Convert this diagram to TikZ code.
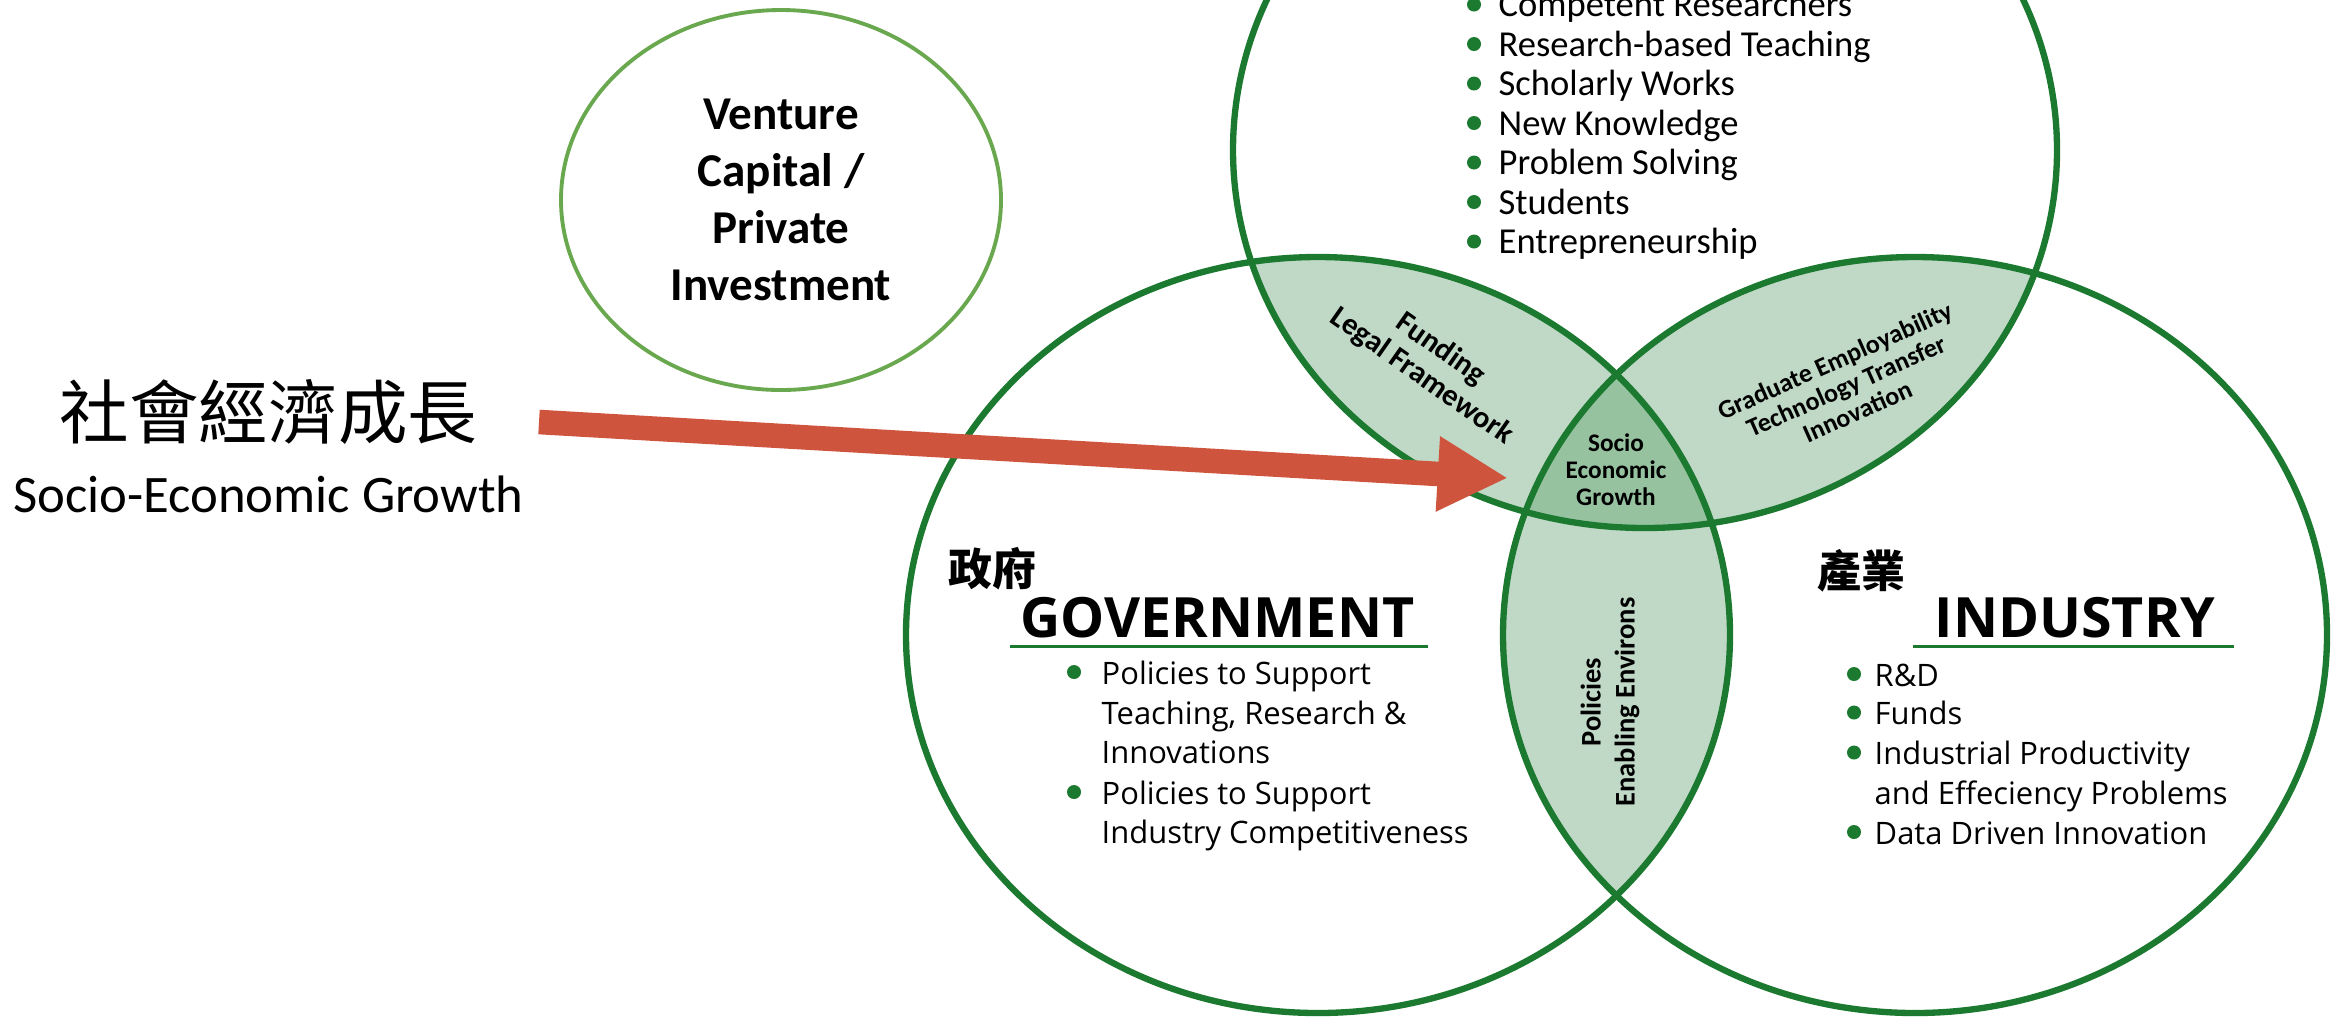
\documentclass[tikz,border=0pt]{standalone}
\usepackage{fontspec}
\setmainfont{Carlito}
\newfontfamily\cjk{Noto Sans CJK TC}
\newfontfamily\osans{Open Sans}
\usetikzlibrary{positioning,shapes.geometric,arrows.meta}

\definecolor{ringgreen}{RGB}{28,122,48}
\definecolor{lensgreen}{RGB}{192,216,198}
\definecolor{coregreen}{RGB}{150,194,160}
\definecolor{vcgreen}{RGB}{106,168,79}
\definecolor{arrowred}{RGB}{207,84,61}

\begin{document}
\begin{tikzpicture}[every node/.style={inner sep=0pt},
	ring/.style={draw=ringgreen,line width=1.8pt},
	lenslabel/.style 2 args={align=center,font=\bfseries\fontsize{#1}{#2}\selectfont},
	headline/.style={anchor=base,font=\osans\bfseries\fontsize{15.8}{18}\selectfont},
	zhhead/.style={font=\cjk\bfseries\fontsize{12.5}{14}\selectfont}]

\useasboundingbox (0,0) rectangle (23.41,-10.18);
\clip (0,0) rectangle (23.41,-10.18);

\newcommand{\erx}{4.12}
\newcommand{\ery}{3.78}
\newcommand{\bpt}[5]{
	\fill[ringgreen] (#2,{#4+0.12}) circle[radius=0.07];
	\node[anchor=base west] (#1) at (#3,#4) {#5};
}

\coordinate (gov) at (13.18,-6.35);
\coordinate (ind) at (19.15,-6.35);
\coordinate (uni) at (16.45,-1.50);

% overlaps
\begin{scope}
	\clip (gov) ellipse [x radius=\erx,y radius=\ery];
	\fill[lensgreen] (uni) ellipse [x radius=\erx,y radius=\ery];
	\fill[lensgreen] (ind) ellipse [x radius=\erx,y radius=\ery];
\end{scope}
\begin{scope}
	\clip (uni) ellipse [x radius=\erx,y radius=\ery];
	\fill[lensgreen] (ind) ellipse [x radius=\erx,y radius=\ery];
\end{scope}
\begin{scope}
	\clip (gov) ellipse [x radius=\erx,y radius=\ery];
	\clip (uni) ellipse [x radius=\erx,y radius=\ery];
	\fill[coregreen] (ind) ellipse [x radius=\erx,y radius=\ery];
\end{scope}
\foreach \c in {gov,ind,uni}{
	\draw[ring] (\c) ellipse [x radius=\erx,y radius=\ery];
}

\node[ellipse,draw=vcgreen,line width=1.1pt,minimum width=4.4cm,minimum height=3.8cm,
	align=center,font=\bfseries\fontsize{13.4}{16.2}\selectfont] (vc) at (7.81,-2.0)
	{Venture\\Capital /\\Private\\Investment};

\node[font=\cjk\fontsize{19.8}{22}\selectfont] (cnlabel) at (2.685,-4.12) {社會經濟成長};
\node[font=\fontsize{15}{18}\selectfont] (enlabel) [below=0.3cm of cnlabel] {Socio-Economic Growth};

% university
\begin{scope}[font=\fontsize{10.4}{11.2}\selectfont]
\foreach[count=\i from 0] \t in {Competent Researchers,Research-based Teaching,Scholarly Works,
	New Knowledge,Problem Solving,Students,Entrepreneurship}{
	\bpt{u\i}{14.74}{14.98}{-0.165-0.395*\i}{\t}
}
\end{scope}

% government
\node[zhhead] (govzh) at (9.92,-5.69) {政府};
\node[headline] (govhead) at (12.175,-6.37) {GOVERNMENT};
\draw[ringgreen,line width=0.85pt] (10.10,-6.46) -- (14.28,-6.46);
\begin{scope}[font=\osans\fontsize{8.8}{10}\selectfont]
\bpt{g1}{10.74}{11.01}{-6.84}{Policies to Support}
\node[anchor=base west] (g2) at (11.01,-7.24) {Teaching, Research \&};
\node[anchor=base west] (g3) at (11.01,-7.63) {Innovations};
\bpt{g4}{10.74}{11.01}{-8.04}{Policies to Support}
\node[anchor=base west] (g5) at (11.01,-8.43) {Industry Competitiveness};
\end{scope}

% industry
\node[zhhead] (indzh) at (18.61,-5.71) {產業};
\node[headline] (indhead) at (20.75,-6.37) {INDUSTRY};
\draw[ringgreen,line width=0.85pt] (19.13,-6.46) -- (22.34,-6.46);
\begin{scope}[font=\osans\fontsize{8.8}{10}\selectfont]
\bpt{i1}{18.54}{18.74}{-6.86}{R\&D}
\bpt{i2}{18.54}{18.74}{-7.245}{Funds}
\bpt{i3}{18.54}{18.74}{-7.645}{Industrial Productivity}
\node[anchor=base west] (i4) at (18.74,-8.04) {and Effeciency Problems};
\bpt{i5}{18.54}{18.74}{-8.44}{Data Driven Innovation}
\end{scope}

% overlap labels
\node[lenslabel={7.2}{7.7}] (core) at (16.16,-4.70) {Socio\\Economic\\Growth};
\node[lenslabel={8.7}{9.4},rotate=-35] (fundlens) at (14.31,-3.63) {Funding\\Legal Framework};
\node[lenslabel={7.4}{7.9},rotate=24] (gradlens) at (18.46,-3.86) {Graduate Employability\\Technology Transfer\\Innovation};
\node[lenslabel={8.1}{9.7},rotate=90] (policylens) at (16.10,-7.02) {Policies\\Enabling Environs};

\coordinate (arrowfoot) at (5.39,-4.22);
\coordinate (arrowtip) at (15.08,-4.78);
\draw[arrowred,line width=7pt,-{Triangle[length=20pt,width=20pt]}] (arrowfoot) -- (arrowtip);

\end{tikzpicture}
\end{document}
